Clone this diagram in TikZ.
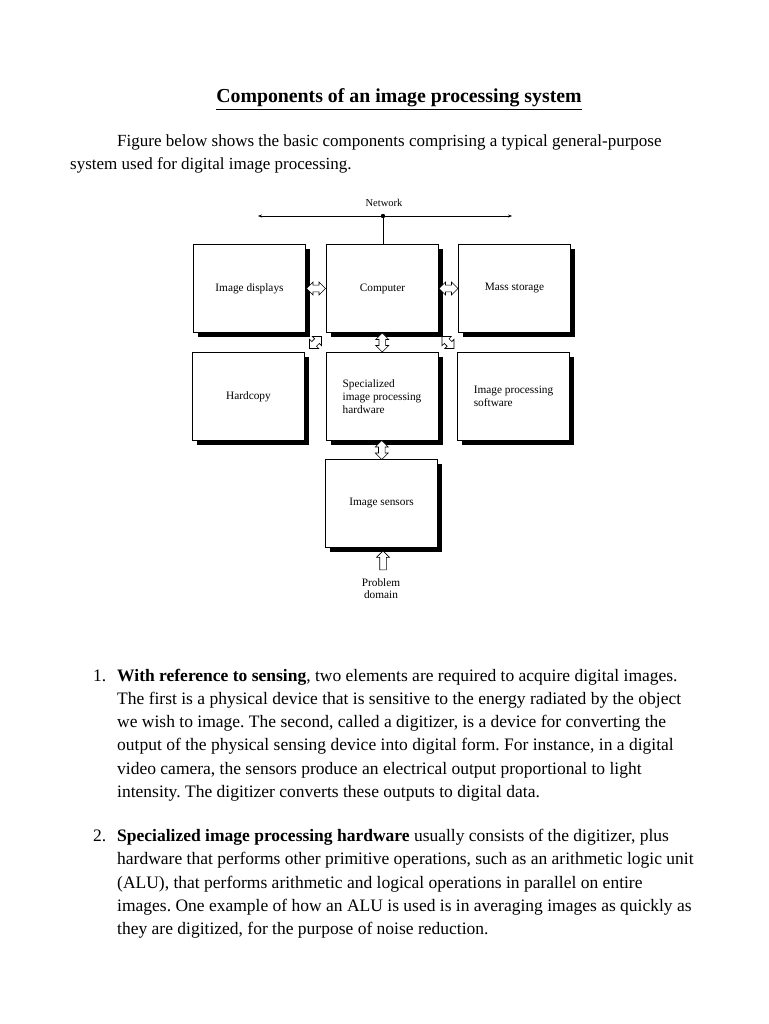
\documentclass[tikz,border=0pt]{standalone}
\usepackage{fontspec}
\setmainfont{Liberation Serif}
\usetikzlibrary{shapes.arrows,shadows,arrows.meta,calc}
\frenchspacing
\begin{document}
\begin{tikzpicture}[x=1pt,y=-1pt,
  box/.style={draw, line width=0.6pt, fill=white, minimum width=112pt, minimum height=88pt, inner sep=0pt,
    font=\fontsize{11.3}{12.8}\selectfont,
    drop shadow={shadow xshift=4.5pt, shadow yshift=-4.5pt, fill=black, opacity=1}},
  dblarr/.style={double arrow, draw, line width=0.6pt, fill=white, inner sep=2.8pt, minimum height=19pt,
    minimum width=13pt, double arrow head extend=3pt, double arrow head indent=0pt},
  sglarr/.style={single arrow, draw, line width=0.6pt, fill=white, inner sep=2.8pt, minimum height=19pt,
    minimum width=13pt, single arrow head extend=3pt},
  body/.style={anchor=base west, inner sep=0pt, font=\fontsize{17.5}{23}\selectfont},
  intro/.style={anchor=base west, inner sep=0pt, font=\fontsize{17}{23}\selectfont},
  small/.style={font=\fontsize{10.5}{12}\selectfont, inner sep=0pt}
]
\useasboundingbox[fill=white] (0,0) rectangle (768,1024);

% title and intro
\node[anchor=base, inner sep=0pt, font=\fontsize{19.8}{22}\selectfont\bfseries] (title) at (399,103)
  {\underline{Components of an image processing system}};
\node[intro] (p1) at (117,147) {Figure below shows the basic components comprising a typical general-purpose};
\node[intro] (p2) at (70,170) {system used for digital image processing.};

% network
\node[small] (net) at (384,203) {Network};
\coordinate (nl) at (258,216);
\coordinate (nr) at (512,216);
\coordinate (dot) at (383,216);
\draw[line width=0.5pt, {Stealth[length=4pt,width=3pt]}-{Stealth[length=4pt,width=3pt]}] (nl) -- (nr);

% boxes
\node[box] (disp) at (249.5,288.5) {Image displays};
\node[box] (comp) at (382.5,288.5) {Computer};
\node[box] (mass) at (514.5,288.5) {Mass storage};
\node[box] (hard) at (248.5,396.5) {Hardcopy};
\node[box, align=left] (spec) at (382,396.5) {Specialized\\image processing\\hardware};
\node[box, align=left] (soft) at (513.5,396.5) {Image processing\\software};
\node[box] (sens) at (381.5,503.5) {Image sensors};

\draw[line width=0.6pt] (dot) -- (dot |- comp.north);
\fill (dot) circle (2.2);

% block arrows
\node[dblarr] (a1) at ($(disp.east)!0.5!(comp.west)$) {};
\node[dblarr] (a2) at ($(comp.east)!0.5!(mass.west)$) {};
\node[dblarr, rotate=90] (a3) at ($(comp.south)!0.5!(spec.north)$) {};
\node[dblarr, rotate=90] (a4) at ($(spec.south)!0.5!(sens.north)$) {};
\node[dblarr, rotate=45, minimum height=17pt] (a5) at ($(comp.south west)!0.5!(hard.north east)$) {};
\node[dblarr, rotate=-45, minimum height=17pt] (a6) at ($(comp.south east)!0.5!(soft.north west)$) {};

\node[small, align=center, font=\fontsize{11.3}{12}\selectfont] (prob) at (381,589) {Problem\\domain};
\node[sglarr, rotate=90] (a7) at (383,562) {};

% item 1
\node[body] (n1) at (93,681) {1.};
\node[body] (l11) at (117,681) {\textbf{With reference to sensing}, two elements are required to acquire digital images.};
\node[body] (l12) at (117,704) {The first is a physical device that is sensitive to the energy radiated by the object};
\node[body] (l13) at (117,727) {we wish to image. The second, called a digitizer, is a device for converting the};
\node[body] (l14) at (117,750) {output of the physical sensing device into digital form. For instance, in a digital};
\node[body] (l15) at (117,774) {video camera, the sensors produce an electrical output proportional to light};
\node[body] (l16) at (117,797) {intensity. The digitizer converts these outputs to digital data.};

% item 2
\node[body] (n2) at (93,841) {2.};
\node[body] (l21) at (117,841) {\textbf{Specialized image processing hardware} usually consists of the digitizer, plus};
\node[body] (l22) at (117,864) {hardware that performs other primitive operations, such as an arithmetic logic unit};
\node[body] (l23) at (117,888) {(ALU), that performs arithmetic and logical operations in parallel on entire};
\node[body] (l24) at (117,911) {images. One example of how an ALU is used is in averaging images as quickly as};
\node[body] (l25) at (117,934) {they are digitized, for the purpose of noise reduction.};
\end{tikzpicture}
\end{document}
